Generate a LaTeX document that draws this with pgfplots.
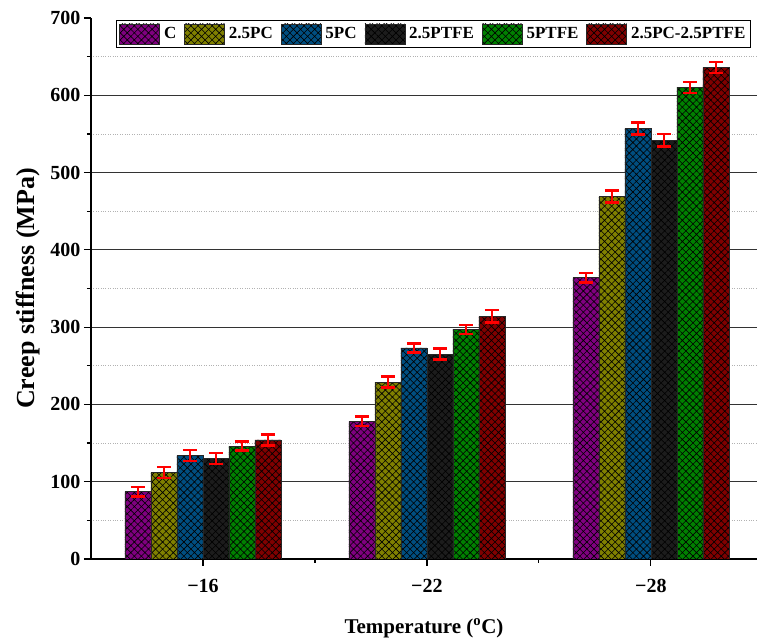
\documentclass[border=0pt]{standalone}
\usepackage{fontspec}
\setmainfont{Liberation Serif}
\usepackage{pgfplots}
\pgfplotsset{compat=1.18}
\usetikzlibrary{patterns.meta}
\definecolor{cC}{RGB}{128,0,128}
\definecolor{cPC}{RGB}{128,128,0}
\definecolor{cPCf}{RGB}{0,78,128}
\definecolor{cPT}{RGB}{28,28,28}
\definecolor{cPTf}{RGB}{0,128,0}
\definecolor{cMix}{RGB}{128,0,0}
\pgfplotsset{
  barstyle/.style={fill=#1, draw=black!85, line width=0.6pt,
    postaction={pattern={Hatch[angle=45,distance=5pt,line width=0.6pt]}, pattern color=black},
    error bars/y dir=both, error bars/y explicit,
    error bars/error bar style={red, line width=2.6pt},
    error bars/error mark options={rotate=90, red, mark size=7pt, line width=2.6pt}},
}
\begin{document}
\begin{tikzpicture}
\begin{axis}[name=ax,
  scale only axis, width=666pt, height=541pt,
  xmin=-0.5, xmax=2.474, ymin=0, ymax=700,
  ybar=0pt, bar width=26pt,
  axis x line*=bottom, axis y line*=left,
  axis line style={line width=1.2pt},
  xtick={0,1,2}, xticklabels={−16,−22,−28},
  minor xtick={0.5,1.5},
  ytick={0,100,...,600}, minor ytick={50,150,...,650},
  extra y ticks={700}, extra y tick style={grid=none},
  tick align=outside, major tick length=7pt, minor tick length=4pt,
  tick style={line width=1.2pt, black},
  ymajorgrids, yminorgrids,
  major grid style={black!80, line width=0.8pt},
  minor grid style={gray!60, dotted, line width=0.8pt},
  /pgf/number format/assume math mode=true,
  tick label style={font=\fontsize{20}{22}\selectfont\bfseries},
  xticklabel style={yshift=-10pt},
  xlabel={Temperature (\textsuperscript{o}C)},
  ylabel={Creep stiffness (MPa)},
  xlabel style={font=\fontsize{21}{24}\selectfont\bfseries, at={(axis description cs:0.5,-0.1275)}, anchor=center},
  ylabel style={font=\fontsize{26}{28}\selectfont\bfseries, at={(axis description cs:-0.0946,0.5)}, anchor=center},
  legend columns=6,
  legend style={at={(axis description cs:0.0375,0.996)}, anchor=north west,
    draw=black, line width=1pt, fill=white, inner sep=3pt,
    font=\fontsize{17}{19}\selectfont\bfseries,
    /tikz/every odd column/.append style={column sep=2pt},
    /tikz/every even column/.append style={column sep=6pt}},
  legend image code/.code={\draw[#1] (0pt,-10pt) rectangle (40pt,10pt);},
]
\addplot[barstyle=cC] coordinates {(0,87) +- (0,6) (1,178) +- (0,6) (2,364) +- (0,6)};
\addplot[barstyle=cPC] coordinates {(0,112) +- (0,7) (1,229) +- (0,7) (2,469) +- (0,8)};
\addplot[barstyle=cPCf] coordinates {(0,134) +- (0,7) (1,273) +- (0,6) (2,557) +- (0,8)};
\addplot[barstyle=cPT] coordinates {(0,130) +- (0,7) (1,265) +- (0,7) (2,542) +- (0,8)};
\addplot[barstyle=cPTf] coordinates {(0,146) +- (0,6) (1,297) +- (0,6) (2,610) +- (0,7)};
\addplot[barstyle=cMix] coordinates {(0,154) +- (0,7) (1,314) +- (0,8) (2,636) +- (0,7)};
\legend{C,2.5PC,5PC,2.5PTFE,5PTFE,2.5PC-2.5PTFE}
\end{axis}
\pgfresetboundingbox
\path ([shift={(-91pt,-82pt)}]ax.south west) rectangle ([shift={(0pt,18pt)}]ax.north east);
\end{tikzpicture}
\end{document}
